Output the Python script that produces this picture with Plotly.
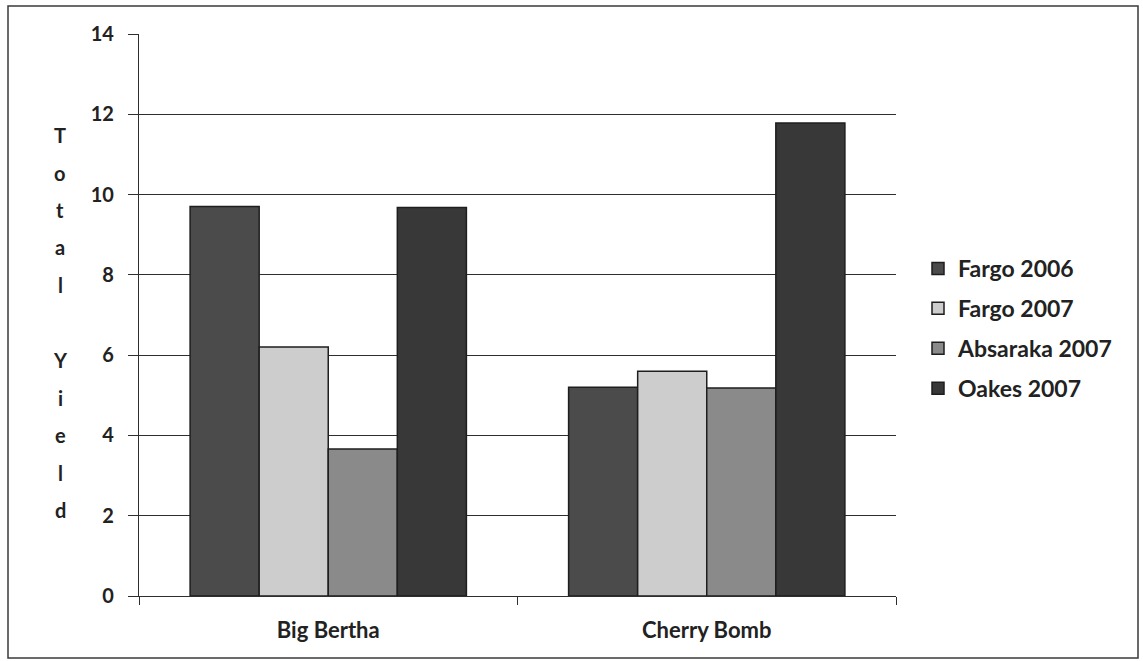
import plotly.graph_objects as go

categories = ["Big Bertha", "Cherry Bomb"]
series_names = ["Fargo 2006", "Fargo 2007", "Absaraka 2007", "Oakes 2007"]
fargo_2006 = [9.7, 5.2]
fargo_2007 = [6.2, 5.6]
absaraka_2007 = [3.66, 5.18]
oakes_2007 = [9.68, 11.78]
y_ticks = [0, 2, 4, 6, 8, 10, 12, 14]
y_title_letters = ["T", "o", "t", "a", "l", "", "Y", "i", "e", "l", "d"]

series_values = [fargo_2006, fargo_2007, absaraka_2007, oakes_2007]
colors = ["#4b4b4b", "#cdcdcd", "#8a8a8a", "#383838"]

W, H = 1143, 661
L, R, T, B = 139, 896, 34, 596
FONT = "Lato"
TXT = "#222222"

fig = go.Figure()
for i, (name, vals) in enumerate(zip(series_names, series_values)):
    fig.add_trace(go.Bar(
        x=categories, y=vals, name=name,
        marker=dict(color=colors[i], line=dict(color="#1e1e1e", width=1.5)),
        legendgroup=name,
    ))

def px_x(px):
    return (px - L) / (R - L)

def px_y(py):
    return (B - py) / (B - T)

annotations = []
for i, ch in enumerate(y_title_letters):
    if not ch:
        continue
    annotations.append(dict(
        text=ch, xref="paper", yref="paper",
        x=px_x(60), y=px_y(135 + i * 37.5),
        xanchor="center", yanchor="middle", showarrow=False,
        font=dict(family=FONT, size=20, color=TXT, weight="bold"),
    ))

fig.update_layout(
    width=W, height=H,
    margin=dict(l=L, r=W - R, t=T, b=H - B, pad=0),
    paper_bgcolor="white", plot_bgcolor="white",
    barmode="group", bargap=0.27, bargroupgap=0,
    font=dict(family=FONT, size=22, color=TXT, weight="bold"),
    showlegend=True,
    legend=dict(
        x=px_x(918), y=px_y(247), xanchor="left", yanchor="top",
        font=dict(family=FONT, size=23, color=TXT, weight="bold"),
        tracegroupgap=7, itemwidth=30, bgcolor="rgba(0,0,0,0)",
    ),
    annotations=annotations,
    shapes=[dict(
        type="rect", xref="paper", yref="paper",
        x0=px_x(8), x1=px_x(1138), y0=px_y(658), y1=px_y(6),
        line=dict(color="#3a3a3a", width=1.5), fillcolor="rgba(0,0,0,0)",
        layer="below",
    )],
)
fig.update_yaxes(
    range=[0, 14], tickvals=y_ticks, showgrid=True, gridcolor="#2e2e2e", gridwidth=1,
    showline=True, linecolor="#2e2e2e", linewidth=1.2,
    ticks="outside", ticklen=10, tickcolor="#2e2e2e", tickwidth=1.2,
    ticklabelstandoff=10, zeroline=False,
    tickfont=dict(family=FONT, size=20, color=TXT, weight="bold"),
)
fig.update_xaxes(
    showline=True, linecolor="#2e2e2e", linewidth=1.2,
    ticks="outside", ticklen=8, tickcolor="#2e2e2e", tickwidth=1.2,
    tickson="boundaries", ticklabelstandoff=14,
    tickfont=dict(family=FONT, size=22, color=TXT, weight="bold"),
)

fig.write_html(
    "out.html",
    config={"displayModeBar": False},
    post_script="document.body.style.margin='0';document.body.style.overflow='hidden';",
)
